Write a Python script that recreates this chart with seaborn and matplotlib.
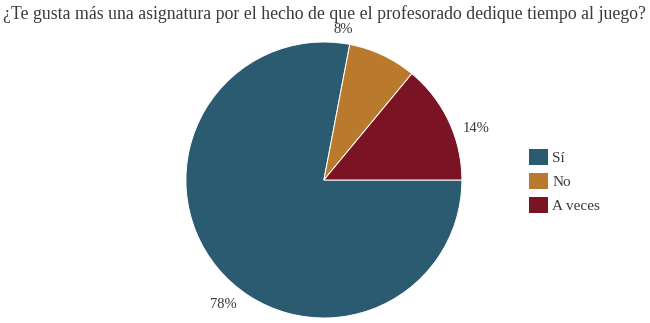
import seaborn as sns
import matplotlib.pyplot as plt
from matplotlib.patches import Patch

# data
categories = ["Sí", "No", "A veces"]
values = [78, 8, 14]
colors = ["#2b5b71", "#b97a2d", "#7a1424"]
title = "¿Te gusta más una asignatura por el hecho de que el profesorado dedique tiempo al juego?"

sns.set_theme(style="white")
plt.rcParams["font.family"] = ["Liberation Serif", "DejaVu Serif"]

fig = plt.figure(figsize=(6.5, 3.23), dpi=100)
ax = fig.add_axes([0.286, 0.0155, 0.4246, 0.8545])

wedges, _ = ax.pie(
    values,
    colors=sns.color_palette(colors),
    startangle=0,
    counterclock=False,
    radius=1.0,
    wedgeprops=dict(edgecolor="white", linewidth=0.7),
)
ax.set_xlim(-1, 1)
ax.set_ylim(-1, 1)
ax.set_aspect("equal")
ax.axis("off")

# percent labels (Excel-style outside placement)
label_pos = [(-0.725, -0.90), (0.138, 1.09), (1.10, 0.375)]
for v, (x, y) in zip(values, label_pos):
    ax.text(x, y, f"{v}%", ha="center", va="center", fontsize=10.5, color="#3a3a3a")

fig.text(0.4985, 0.955, title, ha="center", va="center", fontsize=12.8, color="#3a3a3a")

handles = [Patch(facecolor=c, edgecolor="none") for c in colors]
fig.legend(
    handles, categories,
    loc="center left", bbox_to_anchor=(0.793, 0.44),
    frameon=False, fontsize=11, handlelength=1.25, handleheight=1.25,
    handletextpad=0.25, labelspacing=0.5, labelcolor="#3a3a3a",
)

plt.savefig("out.png", dpi=100)
